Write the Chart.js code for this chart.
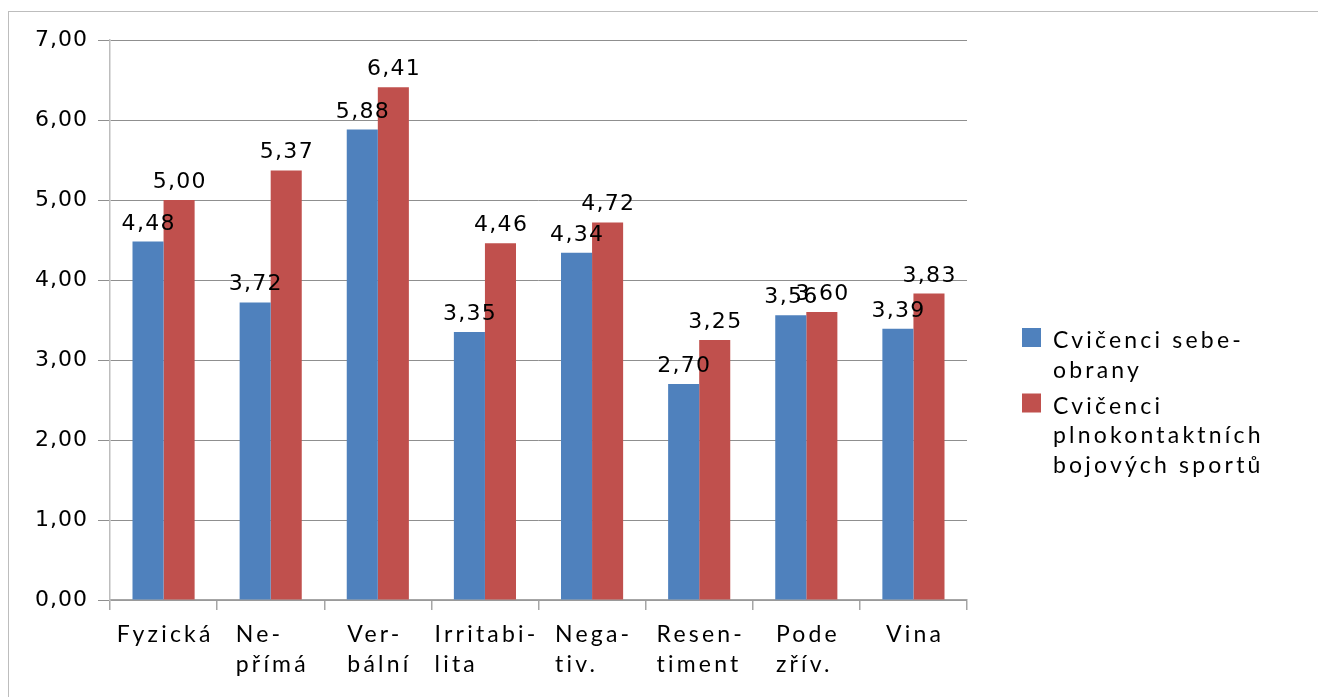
<!DOCTYPE html>
<html lang="cs">
<head>
<meta charset="utf-8">
<title>Agresivita – srovnání skupin</title>
<script src="https://cdn.jsdelivr.net/npm/chart.js@4/dist/chart.umd.min.js"></script>
<style>
  html, body { margin: 0; padding: 0; background: #ffffff; }
  body { width: 1318px; height: 697px; position: relative; overflow: hidden; }
  #frame {
    position: absolute; left: 8px; top: 11px; width: 1320px; height: 720px;
    border: 1.5px solid #bdbdbd; box-sizing: border-box;
  }
  #wrap { position: absolute; left: 0; top: 0; width: 1318px; height: 697px; }
</style>
</head>
<body>
<div id="frame"></div>
<div id="wrap"><canvas id="chart" width="1318" height="697"></canvas></div>
<script>
// Subscales of the aggression questionnaire (multi-line axis labels)
const categories = [
  ["Fyzická"],
  ["Ne-", "přímá"],
  ["Ver-", "bální"],
  ["Irritabi-", "lita"],
  ["Nega-", "tiv."],
  ["Resen-", "timent"],
  ["Pode", "zřív."],
  ["Vina"]
];

// Group names, split into legend lines
const seriesSelfDefenceName = ["Cvičenci sebe-", "obrany"];
const seriesFullContactName = ["Cvičenci", "plnokontaktních", "bojových sportů"];

// Mean scores per subscale
const seriesSelfDefence = [4.48, 3.72, 5.88, 3.35, 4.34, 2.70, 3.56, 3.39];
const seriesFullContact = [5.00, 5.37, 6.41, 4.46, 4.72, 3.25, 3.60, 3.83];

// Value axis ticks
const yTicks = [0, 1, 2, 3, 4, 5, 6, 7];

const fmt = v => v.toFixed(2).replace('.', ',');

const LABEL_FONT = '23px Lato';
const LABEL_SPACING = '3.2px';
const NUM_FONT = '22px "DejaVu Sans"';

function spacedWidth(ctx, text, spacing) {
  // measureText includes trailing letter spacing; remove it
  return ctx.measureText(text).width - spacing;
}

// Slightly tracked numerals for the value axis
const numberTracking = {
  id: 'numberTracking',
  beforeDraw(chart) { chart.ctx.letterSpacing = '1px'; }
};

// Bar value labels
const valueLabels = {
  id: 'valueLabels',
  afterDatasetsDraw(chart) {
    const ctx = chart.ctx;
    ctx.save();
    ctx.font = NUM_FONT;
    ctx.letterSpacing = '1.3px';
    ctx.fillStyle = '#000000';
    ctx.textAlign = 'left';
    ctx.textBaseline = 'alphabetic';
    chart.data.datasets.forEach((ds, di) => {
      const meta = chart.getDatasetMeta(di);
      meta.data.forEach((bar, i) => {
        const txt = fmt(ds.data[i]);
        const w = spacedWidth(ctx, txt, 1.3);
        ctx.fillText(txt, bar.x - w / 2, bar.y - 12);
      });
    });
    ctx.restore();
  }
};

// Category labels: block centred under the category, lines left-aligned
const categoryLabels = {
  id: 'categoryLabels',
  afterDraw(chart) {
    const ctx = chart.ctx;
    const xs = chart.scales.x;
    const base = chart.chartArea.bottom + 42;
    ctx.save();
    ctx.font = LABEL_FONT;
    ctx.letterSpacing = LABEL_SPACING;
    ctx.fillStyle = '#000000';
    ctx.textAlign = 'left';
    ctx.textBaseline = 'alphabetic';
    const sp = parseFloat(LABEL_SPACING);
    categories.forEach((lines, i) => {
      const cx = xs.getPixelForTick(i);
      const maxW = Math.max(...lines.map(l => spacedWidth(ctx, l, sp)));
      const left = cx - maxW / 2;
      lines.forEach((l, k) => ctx.fillText(l, left, base + k * 29.5));
    });
    ctx.restore();
  }
};

// Legend to the right of the plot
const sideLegend = {
  id: 'sideLegend',
  afterDraw(chart) {
    const ctx = chart.ctx;
    const x0 = chart.chartArea.right + 55;
    let baseline = chart.chartArea.top + 308;
    ctx.save();
    ctx.font = LABEL_FONT;
    ctx.letterSpacing = LABEL_SPACING;
    ctx.textAlign = 'left';
    ctx.textBaseline = 'alphabetic';
    chart.data.datasets.forEach(ds => {
      ctx.fillStyle = ds.backgroundColor;
      ctx.fillRect(x0, baseline - 20, 19, 19);
      ctx.fillStyle = '#000000';
      ds.legendLines.forEach((l, k) => ctx.fillText(l, x0 + 31, baseline + k * 29.5));
      baseline += ds.legendLines.length * 29.5 + 6.5;
    });
    ctx.restore();
  }
};

new Chart(document.getElementById('chart'), {
  type: 'bar',
  data: {
    labels: categories.map(c => c.join(' ')),
    datasets: [
      {
        label: seriesSelfDefenceName.join(''),
        legendLines: seriesSelfDefenceName,
        data: seriesSelfDefence,
        backgroundColor: '#4f81bd',
        categoryPercentage: 0.58,
        barPercentage: 1.0
      },
      {
        label: seriesFullContactName.join(' '),
        legendLines: seriesFullContactName,
        data: seriesFullContact,
        backgroundColor: '#c0504d',
        categoryPercentage: 0.58,
        barPercentage: 1.0
      }
    ]
  },
  options: {
    responsive: false,
    animation: false,
    devicePixelRatio: 1,
    layout: { padding: { left: 0, top: 40, right: 351, bottom: 0 } },
    plugins: {
      legend: { display: false },
      tooltip: { enabled: false }
    },
    scales: {
      x: {
        offset: true,
        grid: {
          offset: true,
          drawOnChartArea: false,
          drawTicks: true,
          tickLength: 10,
          color: '#a6a6a6',
          lineWidth: 1.5
        },
        border: { color: '#a6a6a6', width: 1.5 },
        ticks: { display: false },
        afterFit(scale) { scale.height = 97; }
      },
      y: {
        min: 0,
        max: 7,
        afterBuildTicks(scale) { scale.ticks = yTicks.map(v => ({ value: v })); },
        grid: {
          color: '#8f8f8f',
          lineWidth: 1,
          tickLength: 12
        },
        border: { color: '#bdbdbd', width: 1.5 },
        ticks: {
          padding: 10,
          color: '#000000',
          font: { family: 'DejaVu Sans', size: 22 },
          callback: v => fmt(v)
        },
        afterFit(scale) { scale.width = 110; }
      }
    }
  },
  plugins: [numberTracking, valueLabels, categoryLabels, sideLegend]
});
</script>
</body>
</html>
